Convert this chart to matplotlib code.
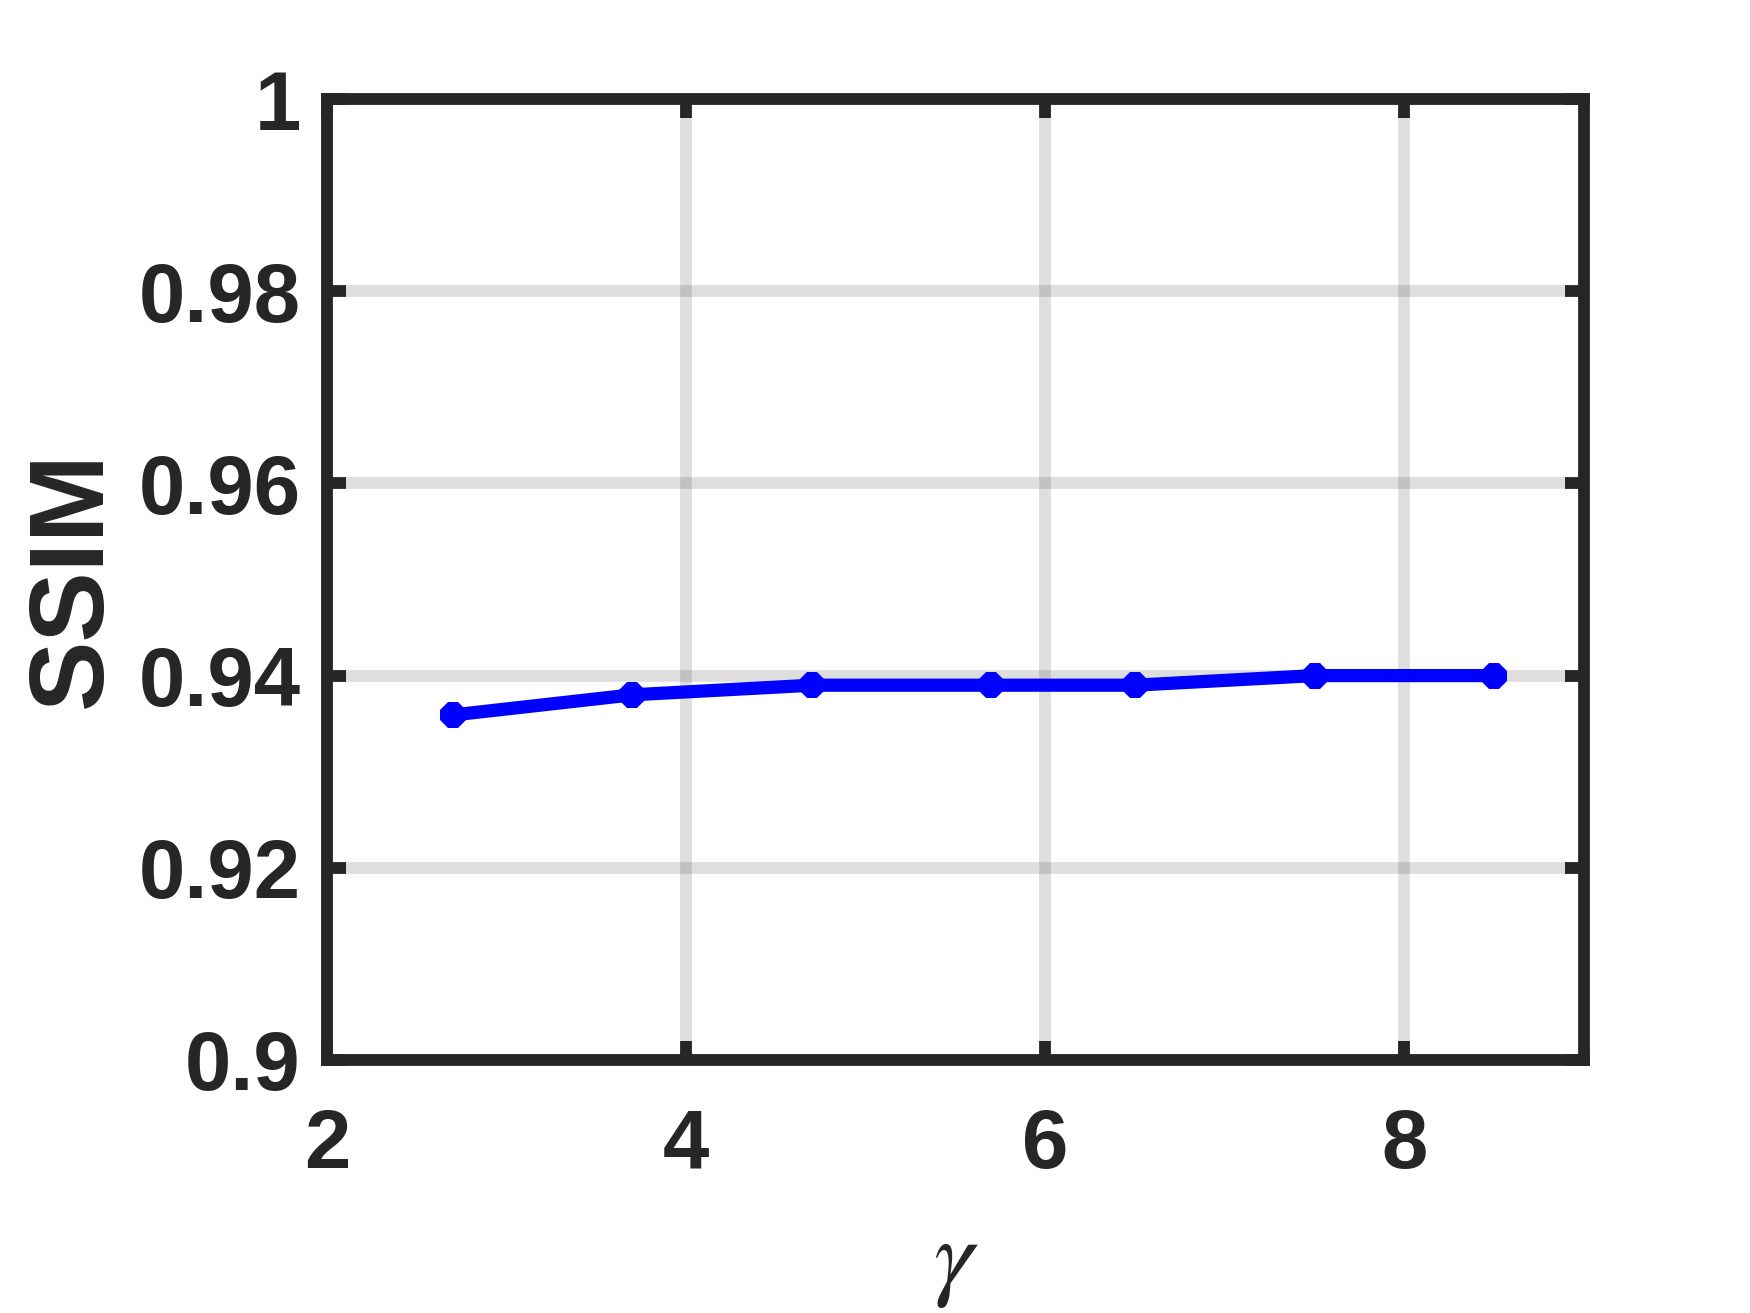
import numpy as np
import matplotlib.pyplot as plt

################################################################################################

gamma = [2.7, 3.7, 4.7, 5.7, 6.5, 7.5, 8.5]
ssim = [0.9359, 0.9380, 0.9390, 0.9390, 0.9390, 0.9400, 0.9400]

xticks = [2, 4, 6, 8]
yticks = [0.90, 0.92, 0.94, 0.96, 0.98, 1.00]
ytick_labels = ['0.9', '0.92', '0.94', '0.96', '0.98', '1']

################################################################################################

plt.rcParams['font.family'] = ['Liberation Sans', 'DejaVu Sans']
plt.rcParams['mathtext.fontset'] = 'stix'

dark = '#262626'

fig = plt.figure(figsize=(17.5, 13.13), dpi=100)
ax = fig.add_axes([0.1869, 0.1927, 0.9051 - 0.1869, 0.9246 - 0.1927])

ax.plot(gamma, ssim, '-8', color='blue', lw=9.5, ms=20, mew=0)

ax.set_xlim(2, 9)
ax.set_ylim(0.9, 1.0)
ax.set_xticks(xticks)
ax.set_xticklabels([str(v) for v in xticks])
ax.set_yticks(yticks)
ax.set_yticklabels(ytick_labels)

ax.grid(True, color=dark, alpha=0.15, lw=8.5)

for s in ax.spines.values():
    s.set_linewidth(8.5)
    s.set_color(dark)

ax.tick_params(direction='in', length=14, width=8.5, color=dark,
               top=True, right=True, labelsize=60, labelcolor=dark)
ax.tick_params(axis='x', pad=34)
ax.tick_params(axis='y', pad=19)
for lab in ax.get_xticklabels() + ax.get_yticklabels():
    lab.set_fontweight('bold')

ax.set_ylabel('SSIM', fontsize=76, fontweight='bold', color=dark, va='center')
ax.yaxis.set_label_coords(-0.2015, 0.5)
ax.set_xlabel(r'$\gamma$', fontsize=72, color=dark)
ax.xaxis.set_label_coords(0.5, -0.162)

fig.savefig('out.png', dpi=100)
